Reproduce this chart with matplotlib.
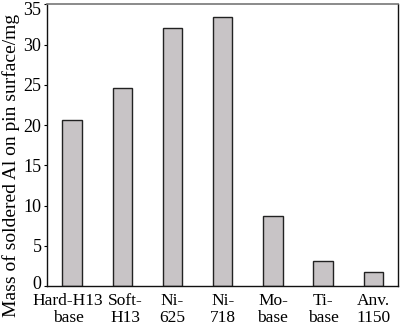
import numpy as np
import matplotlib.pyplot as plt
from matplotlib.transforms import ScaledTranslation

plt.rcParams['font.family'] = ['Liberation Serif', 'DejaVu Serif']

materials = ['Hard-H13\nbase', 'Soft-\nH13', 'Ni-\n625', 'Ni-\n718', 'Mo-\nbase', 'Ti-\nbase', 'Anv.\n1150']
mass = [20.6, 24.6, 32.1, 33.5, 8.7, 3.1, 1.7]
yticks = [0, 5, 10, 15, 20, 25, 30, 35]

fig = plt.figure(figsize=(4.0, 3.26), dpi=100)
ax = fig.add_axes([0.1175, 0.1227, 0.8785, 0.8635])

x = np.arange(len(materials))
ax.bar(x, mass, width=0.39, color='#c8c4c6', edgecolor='#222222', linewidth=1.0)

ax.set_xlim(-0.5, len(materials) - 0.5)
ax.set_ylim(0, 35)
ax.set_yticks(yticks)
ax.set_xticks(x)
ax.set_xticklabels(materials, fontsize=12.5, linespacing=1.05)
ax.tick_params(axis='y', labelsize=13, direction='out', length=2, width=0.8, pad=2)
ax.tick_params(axis='x', length=0, pad=5)
ax.set_ylabel('Mass of soldered Al on pin surface/mg', fontsize=14)
ax.yaxis.set_label_coords(-0.078, 0.43)

# small nudges so labels sit as in the original
xshift = [-4, 3, 0, 0, 0, 0, 0]
for lab, dx in zip(ax.get_xticklabels(), xshift):
    lab.set_transform(lab.get_transform() + ScaledTranslation(dx / 100, 0, fig.dpi_scale_trans))
ylabs = ax.get_yticklabels()
ylabs[-1].set_transform(ylabs[-1].get_transform() + ScaledTranslation(0, -4 / 100, fig.dpi_scale_trans))
ylabs[0].set_transform(ylabs[0].get_transform() + ScaledTranslation(0, 3 / 100, fig.dpi_scale_trans))

for side in ['left', 'bottom', 'right']:
    ax.spines[side].set_color('#111111')
    ax.spines[side].set_linewidth(1.0)
ax.spines['top'].set_color('#777777')
ax.spines['top'].set_linewidth(1.2)

plt.savefig('out.png', dpi=100)
